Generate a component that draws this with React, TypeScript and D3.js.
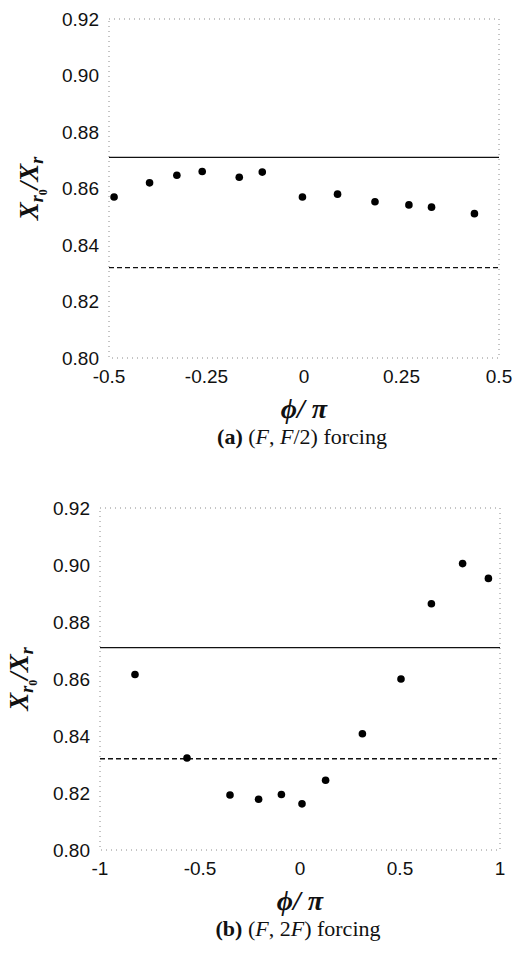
import * as d3 from 'd3';

// panel (a): (F, F/2) forcing
const phiA = [-0.487, -0.396, -0.326, -0.261, -0.166, -0.107, -0.004, 0.086, 0.182, 0.269, 0.327, 0.437];
const ratioA = [0.857, 0.862, 0.8647, 0.866, 0.864, 0.8658, 0.857, 0.858, 0.8553, 0.8542, 0.8534, 0.8511];
const xTicksA = [-0.5, -0.25, 0, 0.25, 0.5];

// panel (b): (F, 2F) forcing
const phiB = [-0.825, -0.565, -0.35, -0.207, -0.093, 0.01, 0.128, 0.312, 0.505, 0.657, 0.813, 0.942];
const ratioB = [0.8616, 0.8323, 0.8193, 0.8178, 0.8195, 0.8162, 0.8245, 0.8408, 0.86, 0.8864, 0.9005, 0.8953];
const xTicksB = [-1, -0.5, 0, 0.5, 1];

const yTicks = [0.8, 0.82, 0.84, 0.86, 0.88, 0.9, 0.92];
const solidRef = 0.871;
const dashedRef = 0.832;

type PanelProps = {
  left: number;
  right: number;
  top: number;
  bottom: number;
  xDomain: [number, number];
  xTicks: number[];
  phi: number[];
  ratio: number[];
  letter: string;
  caption: string;
  yLabelX: number;
};

function Panel({ left, right, top, bottom, xDomain, xTicks, phi, ratio, letter, caption, yLabelX }: PanelProps) {
  const x = d3.scaleLinear().domain(xDomain).range([left, right]);
  const y = d3.scaleLinear().domain([0.8, 0.92]).range([bottom, top]);
  const fmtY = d3.format('.2f');
  const fmtX = (v: number) => String(v);
  const cx = (left + right) / 2;
  const cy = (top + bottom) / 2;
  const frameStyle = { stroke: '#8a8a8a', strokeWidth: 1, strokeDasharray: '1,4', fill: 'none' };
  const pts = phi.map((p, i) => ({ p, r: ratio[i] }));

  return (
    <g>
      <rect x={left} y={top} width={right - left} height={bottom - top} style={frameStyle} />
      {yTicks.map(t => (
        <text key={'y' + t} x={left - 10} y={y(t)} dy="0.36em" textAnchor="end"
          fontFamily="Liberation Sans, Arial, sans-serif" fontSize={19} fill="#111">
          {fmtY(t)}
        </text>
      ))}
      {xTicks.map(t => (
        <text key={'x' + t} x={x(t)} y={bottom + 25} textAnchor="middle"
          fontFamily="Liberation Sans, Arial, sans-serif" fontSize={19} fill="#111">
          {fmtX(t)}
        </text>
      ))}
      <line x1={left} x2={right} y1={y(solidRef)} y2={y(solidRef)} stroke="#111" strokeWidth={1.3} />
      <line x1={left} x2={right} y1={y(dashedRef)} y2={y(dashedRef)} stroke="#111" strokeWidth={1.4} strokeDasharray="5,3" />
      {pts.map((d, i) => (
        <circle key={i} cx={x(d.p)} cy={y(d.r)} r={3.8} fill="#000" />
      ))}
      <text transform={`translate(${yLabelX},${cy}) rotate(-90)`} textAnchor="middle"
        fontFamily="Liberation Serif, Times New Roman, serif" fontWeight="bold" fontSize={27} fill="#111">
        <tspan fontStyle="italic">X</tspan>
        <tspan fontStyle="italic" fontSize={18} dy={5}>r</tspan>
        <tspan fontSize={12} dy={4}>0</tspan>
        <tspan dy={-9} fontStyle="italic">/X</tspan>
        <tspan fontStyle="italic" fontSize={18} dy={5}>r</tspan>
      </text>
      <text x={cx} y={bottom + 60} textAnchor="middle"
        fontFamily="Liberation Serif, Times New Roman, serif" fontWeight="bold" fontStyle="italic" fontSize={28} fill="#111">
        ϕ/ π
      </text>
      <text x={cx - 2} y={bottom + 86} textAnchor="middle"
        fontFamily="Liberation Serif, Times New Roman, serif" fontSize={22} fill="#111">
        <tspan fontWeight="bold">({letter})</tspan>
        <tspan> (</tspan>
        <tspan fontStyle="italic">F</tspan>
        <tspan>, </tspan>
        {caption === 'half' ? (
          <>
            <tspan fontStyle="italic">F</tspan>
            <tspan>/2) forcing</tspan>
          </>
        ) : (
          <>
            <tspan>2</tspan>
            <tspan fontStyle="italic">F</tspan>
            <tspan>) forcing</tspan>
          </>
        )}
      </text>
    </g>
  );
}

export default function App() {
  return (
    <svg width={516} height={954} style={{ position: 'absolute', left: 0, top: 0, background: '#fff' }}>
      <Panel left={109} right={499} top={19} bottom={358} xDomain={[-0.5, 0.5]} xTicks={xTicksA}
        phi={phiA} ratio={ratioA} letter="a" caption="half" yLabelX={38} />
      <Panel left={100} right={500} top={508} bottom={850} xDomain={[-1, 1]} xTicks={xTicksB}
        phi={phiB} ratio={ratioB} letter="b" caption="double" yLabelX={28} />
    </svg>
  );
}
